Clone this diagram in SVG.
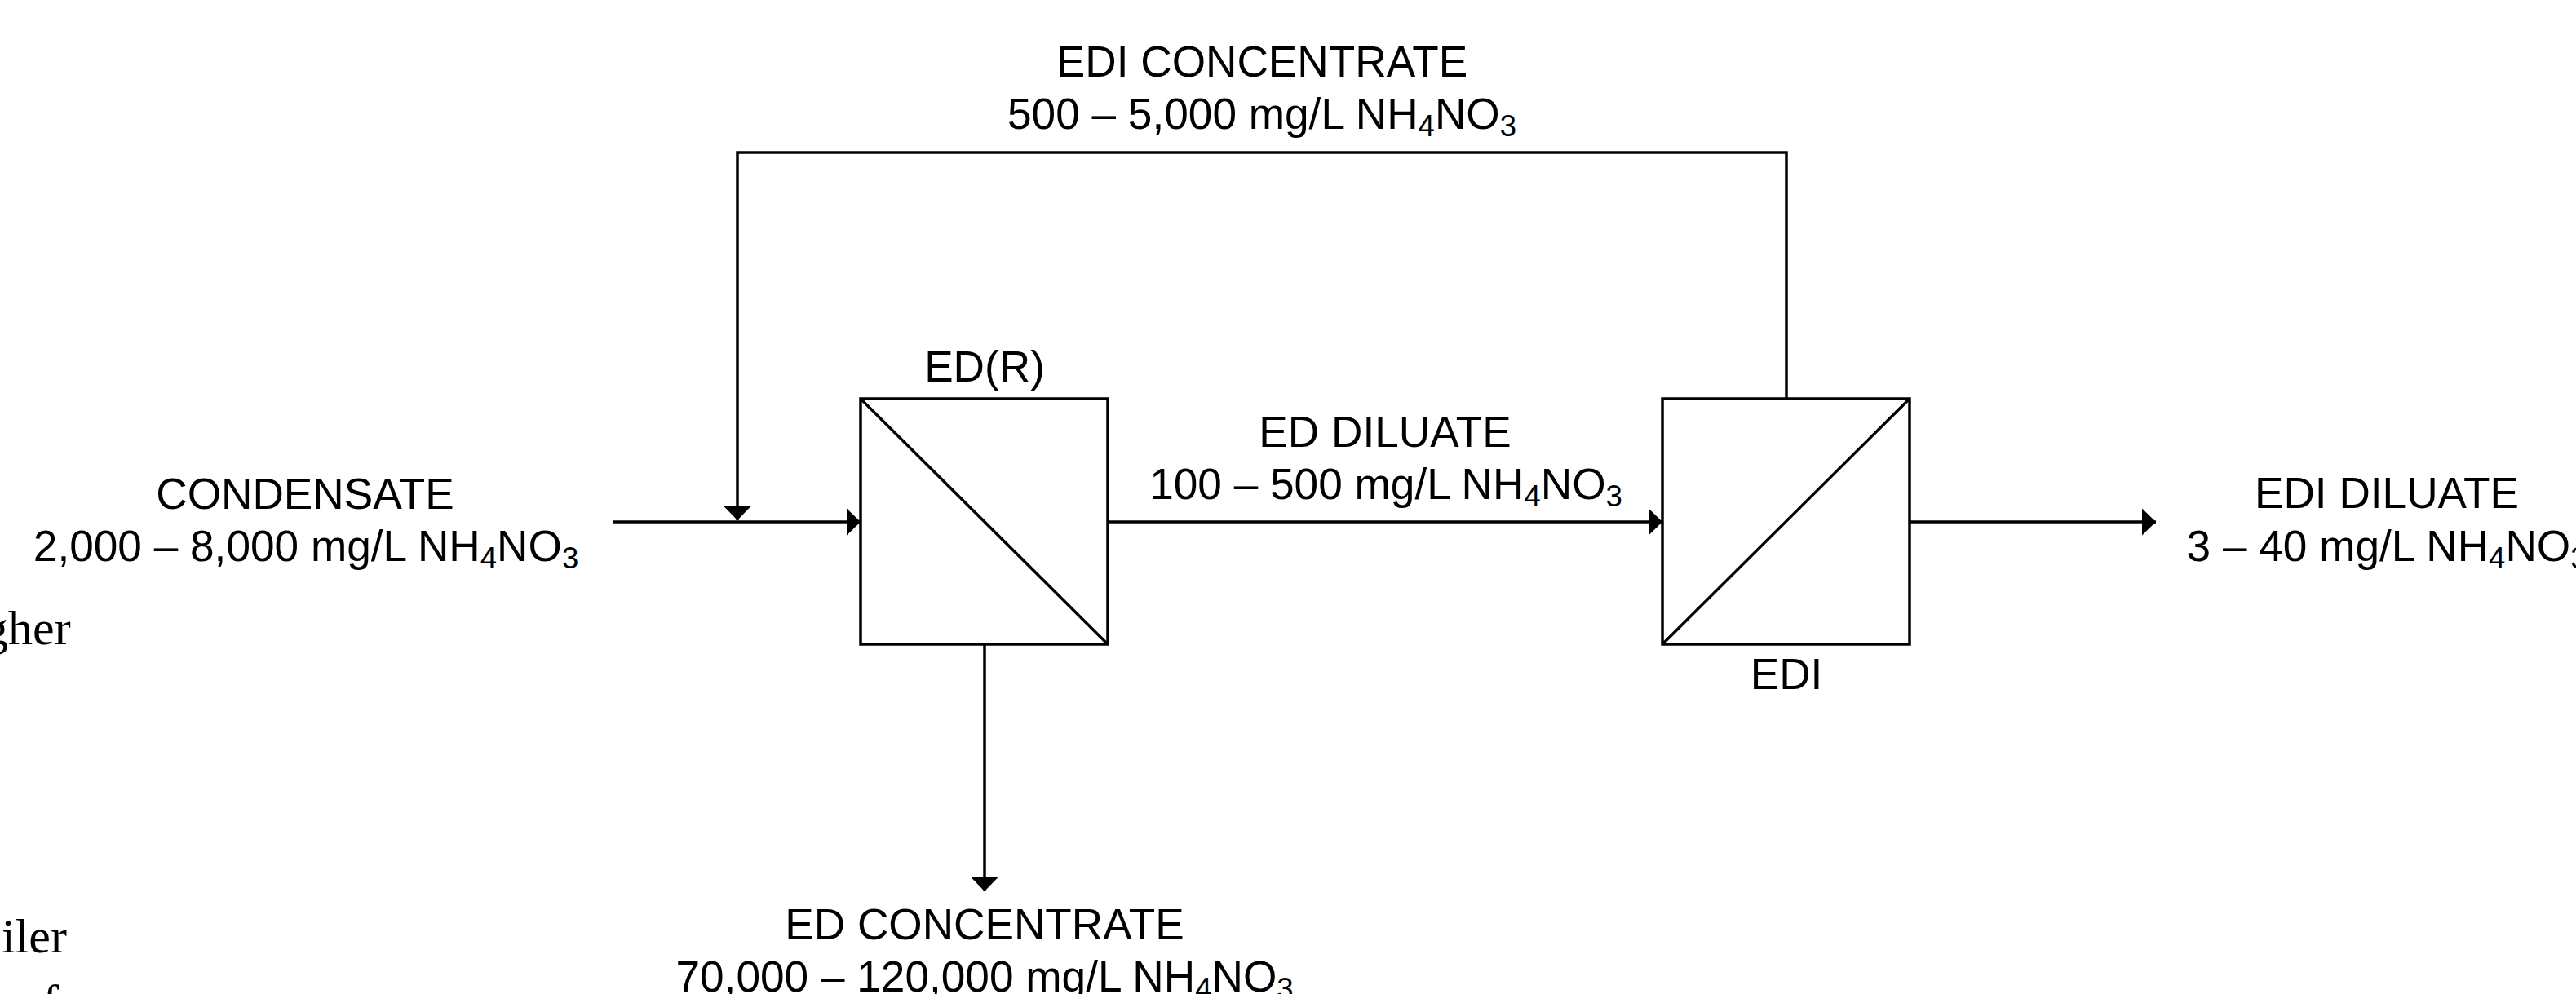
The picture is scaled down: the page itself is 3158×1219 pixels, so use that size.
<svg xmlns="http://www.w3.org/2000/svg" width="3158" height="1219" viewBox="0 0 3158 1219">
<style>
.ln{stroke:#000;stroke-width:3.5;fill:none}
.bx{stroke:#000;stroke-width:3.5;fill:#fff}
.t{font-family:"Liberation Sans",Arial,sans-serif;font-size:53.2px;fill:#000;text-anchor:middle}
.s{font-size:36.5px}
.bg{font-family:"Liberation Serif","Times New Roman",serif;font-size:60px;fill:#000}
</style>
<defs>
<marker id="ah" markerUnits="userSpaceOnUse" markerWidth="17" markerHeight="33" refX="17" refY="16.5" orient="auto" viewBox="0 0 17 33"><path d="M0,0L17,16.5L0,33z" fill="#000"/></marker>
</defs>
<rect width="3158" height="1219" fill="#fff"/>

<g id="page-text">
<text class="bg" x="-20" y="790">gher</text>
<text class="bg" x="2" y="1168">iler</text>
<text class="bg" x="52" y="1249">f</text>
</g>

<g id="connectors">
<line class="ln" x1="751" y1="640" x2="1055" y2="640" marker-end="url(#ah)"/>
<polyline class="ln" points="2190,489 2190,187 904,187 904,638" marker-end="url(#ah)"/>
<line class="ln" x1="1358" y1="640" x2="2038" y2="640" marker-end="url(#ah)"/>
<line class="ln" x1="2341" y1="640" x2="2643" y2="640" marker-end="url(#ah)"/>
<line class="ln" x1="1207" y1="790" x2="1207" y2="1093" marker-end="url(#ah)"/>
</g>

<g id="edr">
<rect class="bx" x="1055" y="489" width="303" height="301"/>
<line class="ln" x1="1055" y1="489" x2="1358" y2="790"/>
<text class="t" x="1207" y="468">ED(R)</text>
</g>

<g id="edi">
<rect class="bx" x="2038" y="489" width="303" height="301"/>
<line class="ln" x1="2038" y1="790" x2="2341" y2="489"/>
<text class="t" x="2190" y="845">EDI</text>
</g>

<g id="condensate">
<text class="t" x="374" y="624">CONDENSATE</text>
<text class="t" x="375" y="688">2,000 – 8,000 mg/L NH<tspan class="s" dy="9">4</tspan><tspan dy="-9">NO</tspan><tspan class="s" dy="9">3</tspan></text>
</g>

<g id="edi-concentrate">
<text class="t" x="1547" y="94">EDI CONCENTRATE</text>
<text class="t" x="1547" y="158">500 – 5,000 mg/L NH<tspan class="s" dy="9">4</tspan><tspan dy="-9">NO</tspan><tspan class="s" dy="9">3</tspan></text>
</g>

<g id="ed-diluate">
<text class="t" x="1698" y="548">ED DILUATE</text>
<text class="t" x="1699" y="612">100 – 500 mg/L NH<tspan class="s" dy="9">4</tspan><tspan dy="-9">NO</tspan><tspan class="s" dy="9">3</tspan></text>
</g>

<g id="edi-diluate">
<text class="t" x="2926" y="623">EDI DILUATE</text>
<text class="t" x="2926" y="688">3 – 40 mg/L NH<tspan class="s" dy="9">4</tspan><tspan dy="-9">NO</tspan><tspan class="s" dy="9">3</tspan></text>
</g>

<g id="ed-concentrate">
<text class="t" x="1207" y="1152">ED CONCENTRATE</text>
<text class="t" x="1207" y="1216">70,000 – 120,000 mg/L NH<tspan class="s" dy="9">4</tspan><tspan dy="-9">NO</tspan><tspan class="s" dy="9">3</tspan></text>
</g>
</svg>
